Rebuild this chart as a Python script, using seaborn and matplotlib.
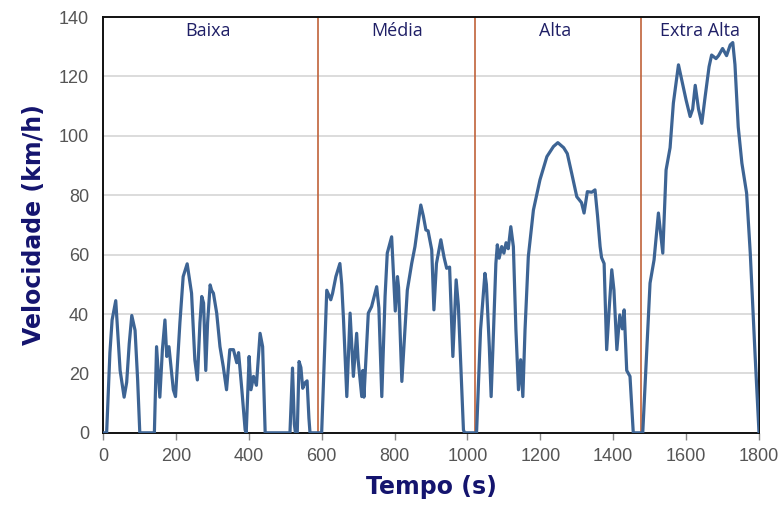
import matplotlib
matplotlib.use("Agg")
import matplotlib.pyplot as plt
import seaborn as sns
import pandas as pd

# WLTC speed trace (breakpoints of the cycle)
tempo = [0, 10, 19, 25, 35, 41, 47, 58, 65, 72, 79, 88, 95, 101, 141, 147, 156, 163, 170, 175,
         181, 193, 199, 211, 220, 231, 243, 252, 259, 266, 271, 276, 282, 287, 294, 298, 303,
         312, 321, 330, 339, 348, 358, 367, 372, 381, 390, 393, 401, 406, 413, 421, 431, 438,
         445, 513, 520, 525, 528, 533, 538, 543, 548, 554, 560, 565, 568, 600, 614, 625, 630,
         639, 650, 655, 660, 669, 678, 687, 696, 700, 710, 713, 716, 728, 737, 751, 757, 765,
         774, 780, 792, 799, 802, 808, 811, 820, 829, 835, 847, 856, 863, 872, 879, 886, 892,
         902, 908, 915, 927, 936, 943, 951, 960, 969, 975, 989, 992, 1025, 1036, 1048, 1052,
         1060, 1065, 1070, 1078, 1082, 1087, 1094, 1100, 1106, 1112, 1119, 1126, 1133, 1140,
         1146, 1152, 1158, 1167, 1181, 1199, 1218, 1236, 1248, 1264, 1274, 1286, 1300, 1313,
         1320, 1329, 1341, 1350, 1357, 1364, 1368, 1375, 1382, 1389, 1396, 1402, 1410, 1418,
         1425, 1430, 1437, 1446, 1455, 1481, 1501, 1512, 1524, 1536, 1545, 1556, 1565, 1579,
         1590, 1600, 1611, 1618, 1625, 1634, 1643, 1652, 1663, 1670, 1682, 1689, 1700, 1711,
         1721, 1728, 1734, 1743, 1753, 1766, 1776, 1789, 1800]
velocidade = [0, 0, 27, 38, 44.5, 33, 21, 12, 17, 30, 39.5, 34.5, 18, 0, 0, 29, 12, 28, 38, 25.7,
              29, 14.5, 12.2, 37, 52.6, 56.9, 47, 24.6, 17.8, 37, 45.9, 43.7, 21, 37, 49.8, 48, 47,
              40.3, 29, 22.3, 14.5, 28, 28, 23.6, 27, 14.5, 1, 0, 25.7, 14.5, 19, 16, 33.5, 29,
              0, 0, 21.8, 3, 0, 0, 24, 22, 15, 16.8, 17.5, 5, 0, 0, 48, 44.8, 47,
              52.6, 57, 50, 38, 12.2, 40.3, 19, 33.5, 24.6, 12.2, 21, 12, 40.3, 42.5, 49.2, 42, 12.2,
              46, 60.5, 66, 48, 41, 52.6, 49, 17.3, 35.8, 48, 57, 62.7, 69, 76.7, 73, 68.3, 68,
              61.6, 41.4, 57, 65, 59, 55.4, 55.8, 25.7, 51.5, 43, 1, 0, 0, 34.7, 53.7, 50,
              29, 12.2, 29, 57, 63.3, 58.8, 62.7, 60.5, 64, 62, 69.4, 62.7, 34.7, 14.5,
              24.6, 12.2, 34.7, 59.3, 75, 85.2, 93, 96.4, 97.7, 96, 94, 87.4, 79.5, 77.5,
              74, 81.2, 81, 81.8, 73, 62.7, 59, 57, 28, 42, 54.9, 48, 28, 39.7,
              35, 41.4, 21, 19, 0, 0, 50.4, 58.2, 74, 60.5, 88.5, 96, 111, 123.9,
              117.7, 112, 106.5, 109, 117, 109, 104.2, 113, 123.3, 127.2, 126, 127, 129.4, 127,
              130.6, 131.4, 124, 103, 90.8, 80.7, 60.5, 26.8, 0]

# Phase boundaries and names
limites_fase = [589, 1022, 1477]
fases = ["Baixa", "Média", "Alta", "Extra Alta"]
centros_fase = [288, 807, 1240, 1638]

x_ticks = [0, 200, 400, 600, 800, 1000, 1200, 1400, 1600, 1800]
y_ticks = [0, 20, 40, 60, 80, 100, 120, 140]

sns.set_theme(style="white")
plt.rcParams["font.family"] = ["Liberation Sans", "DejaVu Sans"]

df = pd.DataFrame({"Tempo (s)": tempo, "Velocidade (km/h)": velocidade})

fig = plt.figure(figsize=(7.82, 5.08), dpi=100)
ax = fig.add_axes([0.1317, 0.148, 0.8389, 0.8185])

for y in y_ticks[1:-1]:
    ax.axhline(y, color="#d9d9d9", lw=1.3, zorder=0)

for xb in limites_fase:
    ax.axvline(xb, color="#c0623a", lw=1.2, zorder=1)

sns.lineplot(data=df, x="Tempo (s)", y="Velocidade (km/h)", ax=ax,
             color="#3d6494", lw=2.3, zorder=3, estimator=None, sort=False,
             solid_joinstyle="round", solid_capstyle="round")

for nome, cx in zip(fases, centros_fase):
    ax.text(cx, 135.4, nome, ha="center", va="center", fontsize=13,
            color="#1f1f66", family=["Open Sans", "DejaVu Sans"])

ax.set_xlim(0, 1800)
ax.set_ylim(0, 140)
ax.set_xticks(x_ticks)
ax.set_yticks(y_ticks)
ax.tick_params(axis="x", length=5, width=1, color="#888888", labelsize=13,
               labelcolor="#555555", pad=6, direction="out", bottom=True)
ax.tick_params(axis="y", length=0, labelsize=13, labelcolor="#555555", pad=10, left=True)

for s in ax.spines.values():
    s.set_visible(True)
    s.set_color("#111111")
    s.set_linewidth(1.4)

ax.set_xlabel("Tempo (s)", fontsize=17, fontweight="bold", color="#14146e",
              family=["DejaVu Sans"], labelpad=7)
ax.set_ylabel("Velocidade (km/h)", fontsize=17, fontweight="bold", color="#14146e",
              family=["DejaVu Sans"], labelpad=9)

fig.savefig("out.png", dpi=100, facecolor="white")
